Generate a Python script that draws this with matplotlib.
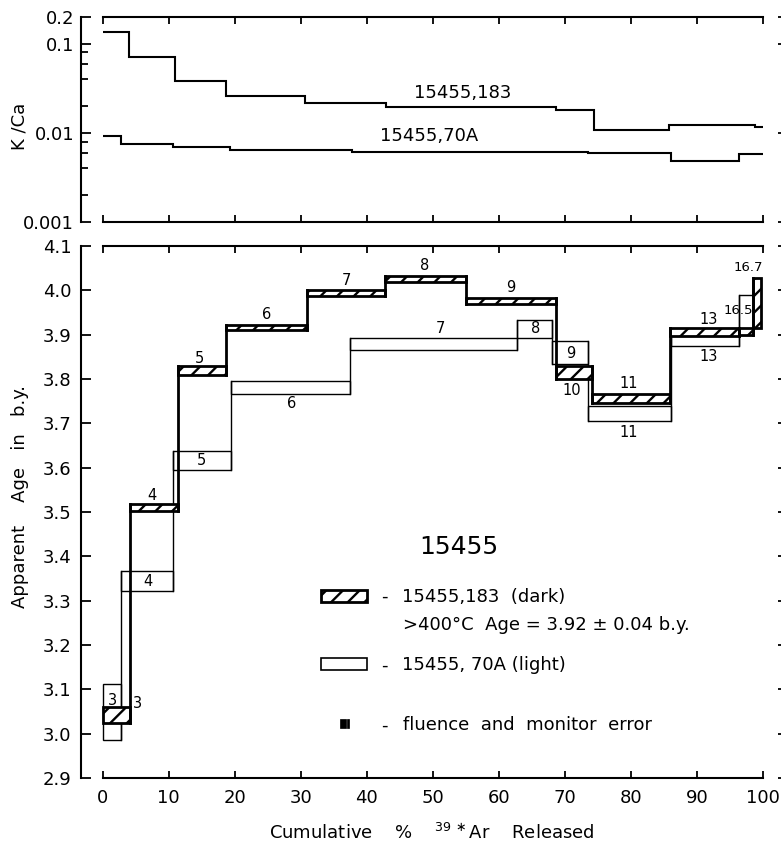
import matplotlib
matplotlib.use('Agg')
import matplotlib.pyplot as plt
from matplotlib.patches import Rectangle
import numpy as np

plt.rcParams['font.family'] = 'DejaVu Sans'
plt.rcParams['mathtext.fontset'] = 'dejavusans'
plt.rcParams['hatch.linewidth'] = 1.7

# K/Ca release spectra (top panel) ##########################################
kca_dark_edges = [0, 4.0, 10.9, 18.7, 30.7, 42.9, 55.0, 68.7, 74.4, 85.7, 98.8, 100]
kca_dark = [0.136, 0.0707, 0.0384, 0.026, 0.0215, 0.0195, 0.0193, 0.0179, 0.0109, 0.0122, 0.0116]
kca_light_edges = [0, 2.8, 10.65, 19.2, 37.7, 73.5, 86.1, 96.3, 100]
kca_light = [0.00915, 0.00743, 0.0070, 0.00647, 0.0061, 0.0060, 0.0049, 0.0058]

# Age spectra (bottom panel) #################################################
dark_edges = [0, 4.1, 11.4, 18.6, 30.9, 42.7, 55.0, 68.7, 74.1, 85.9, 96.3, 98.5, 99.7]
dark_lo = [3.024, 3.503, 3.809, 3.911, 3.988, 4.019, 3.970, 3.800, 3.745, 3.897, 3.900, 3.916]
dark_hi = [3.060, 3.518, 3.829, 3.922, 4.000, 4.032, 3.983, 3.830, 3.767, 3.914, 3.915, 4.028]
dark_labels = ['3', '4', '5', '6', '7', '8', '9', '10', '11', '13', '16.5', '16.7']
dark_lab_x = [5.3, 7.4, 14.7, 24.8, 36.9, 48.8, 61.8, 71.0, 79.6, 91.7, 96.2, 97.8]
dark_lab_y = [3.068, 3.537, 3.847, 3.946, 4.022, 4.055, 4.007, 3.775, 3.789, 3.935, 3.955, 4.052]

light_edges = [0, 2.7, 10.6, 19.4, 37.4, 62.8, 68.1, 73.5, 86.0, 96.3, 98.5]
light_lo = [2.985, 3.321, 3.595, 3.767, 3.865, 3.892, 3.834, 3.705, 3.875, 3.900]
light_hi = [3.113, 3.366, 3.638, 3.796, 3.892, 3.933, 3.886, 3.740, 3.900, 3.990]
light_labels = ['3', '4', '5', '6', '7', '8', '9', '11', '13']
light_lab_x = [1.4, 6.9, 15.0, 28.6, 51.1, 65.5, 70.9, 79.6, 91.7]
light_lab_y = [3.074, 3.344, 3.617, 3.744, 3.913, 3.913, 3.857, 3.680, 3.850]


def frame(ax):
	ax.set_xlim(-3.3, 100)
	ax.spines['bottom'].set_bounds(0, 100)
	ax.spines['top'].set_bounds(0, 100)
	ax.spines['right'].set_position(('outward', 18))
	ax.spines['right'].set_visible(False)
	for s in ax.spines.values():
		s.set_linewidth(1.5)
	ax.set_xticks(np.arange(0, 101, 10))
	ax.tick_params(axis='x', which='both', direction='in', top=True, bottom=True, length=5, width=1.3, labelsize=13)
	ax.tick_params(axis='y', which='both', direction='in', left=True, right=True, width=1.3, labelsize=13)
	ax.tick_params(axis='y', which='major', length=7)
	ax.tick_params(axis='y', which='minor', length=5)


def steps(ax, edges, lo, hi, dark):
	for i in range(len(lo)):
		x0, x1 = edges[i], edges[i + 1]
		if dark:
			ax.add_patch(Rectangle((x0, lo[i]), x1 - x0, hi[i] - lo[i], facecolor='white',
								   edgecolor='black', hatch='//', lw=2.0, zorder=3))
		else:
			ax.add_patch(Rectangle((x0, lo[i]), x1 - x0, hi[i] - lo[i], facecolor='none',
								   edgecolor='black', lw=1.0, zorder=2))
		if i > 0:
			ylo = min(lo[i - 1], lo[i])
			yhi = max(hi[i - 1], hi[i])
			ax.plot([x0, x0], [ylo, yhi], color='black', lw=2.0 if dark else 1.0, zorder=3 if dark else 2)


fig = plt.figure(figsize=(7.81, 8.52), dpi=100)
ax1 = fig.add_axes([81 / 781, 1 - 222 / 852, 682 / 781, 205 / 852])
ax2 = fig.add_axes([81 / 781, 1 - 778 / 852, 682 / 781, 532 / 852])

# Top panel
frame(ax1)
ax1.set_yscale('log')
ax1.set_ylim(0.001, 0.2)
ax1.stairs(kca_dark, kca_dark_edges, baseline=None, color='black', lw=1.5)
ax1.stairs(kca_light, kca_light_edges, baseline=None, color='black', lw=1.5)
ax1.set_yticks([0.001, 0.01, 0.1, 0.2])
ax1.set_yticklabels(['0.001', '0.01', '0.1', '0.2'])
minor = [m * d for d in (0.001, 0.01) for m in (2, 4, 6, 8)]
ax1.set_yticks(minor, minor=True)
ax1.yaxis.set_minor_formatter(plt.NullFormatter())
ax1.tick_params(axis='x', labelbottom=False)
ax1.tick_params(axis='y', which='major', pad=5)
ax1.text(54.5, 0.028, '15455,183', ha='center', va='center', fontsize=13)
ax1.text(49.5, 0.0092, '15455,70A', ha='center', va='center', fontsize=13)

# Bottom panel
frame(ax2)
ax2.set_ylim(2.9, 4.1)
ax2.set_yticks(np.round(np.arange(2.9, 4.11, 0.1), 1))
ax2.yaxis.set_major_formatter(plt.FormatStrFormatter('%.1f'))
ax2.tick_params(axis='y', which='major', pad=7)
ax2.tick_params(axis='x', pad=8)

steps(ax2, light_edges, light_lo, light_hi, False)
steps(ax2, dark_edges, dark_lo, dark_hi, True)

for t, x, y in zip(dark_labels, dark_lab_x, dark_lab_y):
	ax2.text(x, y, t, ha='center', va='center', fontsize=9.5 if '.' in t else 10.5, zorder=5)
for t, x, y in zip(light_labels, light_lab_x, light_lab_y):
	ax2.text(x, y, t, ha='center', va='center', fontsize=10.5, zorder=5)

# Legend block drawn by hand
ax2.text(53.9, 3.421, '15455', ha='center', va='center', fontsize=18)
ax2.add_patch(Rectangle((33.1, 3.297), 6.9, 0.026, facecolor='white', edgecolor='black',
						hatch='//', lw=2.0))
ax2.add_patch(Rectangle((33.1, 3.143), 6.9, 0.027, facecolor='none', edgecolor='black', lw=1.2))
ax2.add_patch(Rectangle((35.9, 3.012), 0.9, 0.02, facecolor='black', edgecolor='black', lw=0.5))
ax2.add_patch(Rectangle((37.0, 3.012), 0.35, 0.02, facecolor='black', edgecolor='black', lw=0.5))
for y in (3.308, 3.154, 3.019):
	ax2.text(42.7, y, '-', ha='center', va='center', fontsize=13)
ax2.text(45.3, 3.308, '15455,183  (dark)', ha='left', va='center', fontsize=13)
ax2.text(45.5, 3.245, '>400°C  Age = 3.92 ± 0.04 b.y.', ha='left', va='center', fontsize=13)
ax2.text(45.3, 3.154, '15455, 70A (light)', ha='left', va='center', fontsize=13)
ax2.text(45.5, 3.019, 'fluence  and  monitor  error', ha='left', va='center', fontsize=13)

fig.text(19 / 781, 1 - 126 / 852, 'K /Ca', rotation=90, ha='center', va='center', fontsize=13)
fig.text(20 / 781, 1 - 497 / 852, 'Apparent    Age   in   b.y.', rotation=90, ha='center', va='center', fontsize=13)
fig.text(432 / 781, 1 - 833 / 852, r'Cumulative    %    $^{39\,\ast}$Ar    Released', ha='center', va='center', fontsize=13)

fig.savefig('out.png', dpi=100)
